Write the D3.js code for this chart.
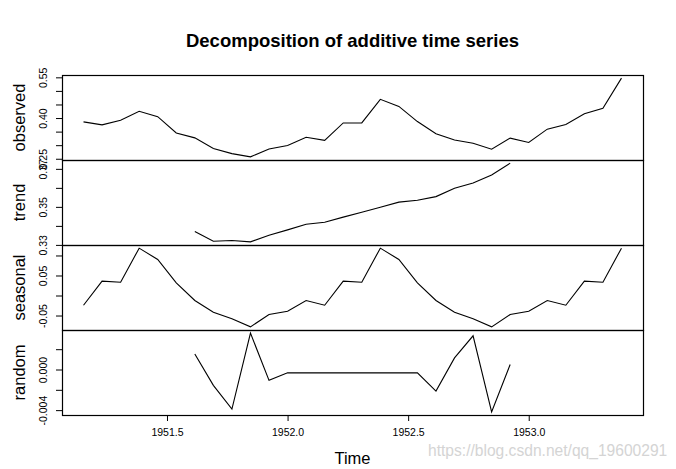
<!DOCTYPE html>
<html><head><meta charset="utf-8">
<script src="https://cdn.jsdelivr.net/npm/d3@7"></script>
<style>
body{margin:0;background:#fff}
text{font-family:"Liberation Sans",Arial,Helvetica,sans-serif;fill:#000}
</style>
</head><body>
<svg id="c" width="676" height="469"></svg>
<script>
// ---- data ----
const startYear = 1951;
const startPeriod = 3;          // period 3 of 13
const frequency = 13;
const observed = [0.386,0.375,0.392,0.425,0.405,0.345,0.327,0.288,0.269,0.257,0.286,0.299,0.329,0.318,0.382,
                  0.382,0.469,0.443,0.387,0.342,0.319,0.307,0.285,0.326,0.310,0.359,0.376,0.416,0.436,0.547];
const trend = [null,null,null,null,null,null,
               0.3370,0.3319,0.3323,0.3316,0.3351,0.3379,0.3409,0.3419,0.3446,0.3472,0.3498,0.3525,
               0.3535,0.3554,0.3598,0.3626,0.3668,0.3730,
               null,null,null,null,null,null];
const seasonal = [-0.0243,0.0358,0.0333,0.1183,0.0900,0.0318,-0.0125,-0.0418,-0.0583,-0.0783,-0.0475,-0.0393,-0.0125,
                  -0.0243,0.0358,0.0333,0.1183,0.0900,0.0318,-0.0125,-0.0418,-0.0583,-0.0783,-0.0475,-0.0393,-0.0125,
                  -0.0243,0.0358,0.0333,0.1183];
const random = [null,null,null,null,null,null,
                0.00153,-0.00156,-0.00390,0.00358,-0.00107,-0.00033,-0.00033,-0.00033,-0.00033,-0.00033,-0.00033,-0.00033,
                -0.00033,-0.00212,0.00114,0.00332,-0.00417,0.00049,
                null,null,null,null,null,null];
const panelNames = ["observed","trend","seasonal","random"];
const observedTicks = [0.25,0.30,0.35,0.40,0.45,0.50,0.55];
const observedLabels = ["0.25","0.40","0.55"];
const trendTicks = [0.33,0.34,0.35,0.36,0.37];
const trendLabels = ["0.33","0.35","0.37"];
const seasonalTicks = [-0.05,0.00,0.05,0.10];
const seasonalLabels = ["-0.05","0.05"];
const randomTicks = [-0.004,-0.002,0.000,0.002];
const randomLabels = ["-0.004","0.000"];
const xTicks = [1951.5,1952.0,1952.5,1953.0];
const xTickLabels = ["1951.5","1952.0","1952.5","1953.0"];
const title = "Decomposition of additive time series";
const xTitle = "Time";
const watermark = "https://blog.csdn.net/qq_19600291";

// ---- layout ----
const svg = d3.select("#c");
const plotLeft = 62, plotRight = 643, plotTop = 75, panelH = 85;
const times = observed.map((d,i) => startYear + (startPeriod - 1 + i) / frequency);
const tExt = d3.extent(times), tPad = (tExt[1]-tExt[0])*0.04;
const x = d3.scaleLinear().domain([tExt[0]-tPad, tExt[1]+tPad]).range([plotLeft, plotRight]);

const series = [observed, trend, seasonal, random];
const ticks = [observedTicks, trendTicks, seasonalTicks, randomTicks];
const labels = [observedLabels, trendLabels, seasonalLabels, randomLabels];
const fmts = [d3.format(".2f"), d3.format(".2f"), d3.format(".2f"), d3.format(".3f")];

series.forEach((s, k) => {
  const y0 = plotTop + k*panelH, y1 = y0 + panelH;
  const vals = s.filter(v => v !== null);
  const ext = d3.extent(vals), pad = (ext[1]-ext[0])*0.04;
  const y = d3.scaleLinear().domain([ext[0]-pad, ext[1]+pad]).range([y1, y0]);
  const g = svg.append("g");
  const line = d3.line().defined(d => d[1] !== null).x(d => x(d[0])).y(d => y(d[1]));
  g.append("path").datum(times.map((t,i) => [t, s[i]]))
    .attr("d", line).attr("fill","none").attr("stroke","#000").attr("stroke-width",1.1);
  const fmt = fmts[k];
  const ax = d3.axisLeft(y).tickValues(ticks[k]).tickSize(6).tickSizeOuter(0)
      .tickFormat(v => { const l = fmt(v).replace("−","-").replace("-0.000","0.000"); return labels[k].includes(l) ? l : ""; });
  const ag = svg.append("g").attr("transform", `translate(${plotLeft},0)`).call(ax);
  ag.select(".domain").remove();
  ag.selectAll(".tick line").attr("stroke","#000");
  ag.selectAll(".tick text")
    .attr("transform","rotate(-90)").attr("x",0).attr("y",-15).attr("dy",null)
    .attr("text-anchor","middle").attr("font-size","10.5px")
    .attr("font-family",'"Liberation Sans",Arial,sans-serif').attr("fill","#000");
  svg.append("rect").attr("x",plotLeft+0.5).attr("y",y0+0.5).attr("width",plotRight-plotLeft).attr("height",panelH)
    .attr("fill","none").attr("stroke","#000").attr("stroke-width",1.2);
  svg.append("text").attr("transform",`translate(25,${(y0+y1)/2}) rotate(-90)`)
    .attr("text-anchor","middle").attr("font-size","16.5px").text(panelNames[k]);
});

const xa = d3.axisBottom(x).tickValues(xTicks).tickSize(6).tickSizeOuter(0)
  .tickFormat((d,i) => xTickLabels[i]);
const xg = svg.append("g").attr("transform",`translate(0,${plotTop+4*panelH})`).call(xa);
xg.select(".domain").remove();
xg.selectAll(".tick line").attr("stroke","#000");
xg.selectAll(".tick text").attr("y",14).attr("dy","0.71em").attr("font-size","10.5px")
  .attr("font-family",'"Liberation Sans",Arial,sans-serif').attr("fill","#000");

svg.append("text").attr("x",(plotLeft+plotRight)/2).attr("y",464).attr("text-anchor","middle")
  .attr("font-size","16.5px").text(xTitle);
svg.append("text").attr("x",(plotLeft+plotRight)/2).attr("y",47).attr("text-anchor","middle")
  .attr("font-size","18.5px").attr("font-weight","bold").text(title);
svg.append("text").attr("x",428).attr("y",456).attr("font-size","15.6px")
  .style("fill","#d4d4d4").text(watermark);
</script>
</body></html>
